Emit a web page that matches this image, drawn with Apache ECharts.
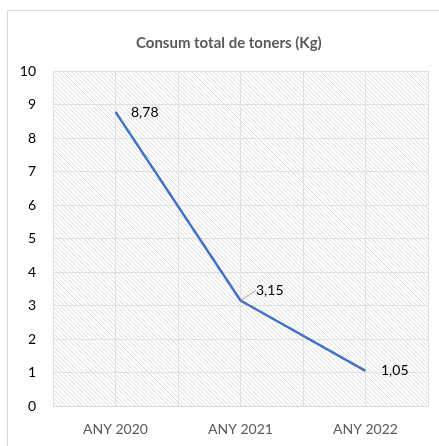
<!DOCTYPE html>
<html>
<head>
<meta charset="utf-8">
<style>
    html, body { margin: 0; padding: 0; background: #fff; }
    #main { width: 439px; height: 446px; }
</style>
</head>
<body>
<div id="main"></div>
<script src="https://cdn.jsdelivr.net/npm/echarts@6/dist/echarts.min.js"></script>
<script>
    var years = ['ANY 2020', 'ANY 2021', 'ANY 2022'];
    var toners = [8.78, 3.15, 1.05];
    var yTicks = [0, 10, 1];

    var gl = 53, gt = 71, gw = 375, gh = 335;

    // diagonal hatch behind the plot area
    var hatch = document.createElement('canvas');
    hatch.width = gw;
    hatch.height = gh;
    var ctx = hatch.getContext('2d');
    ctx.fillStyle = '#ffffff';
    ctx.fillRect(0, 0, gw, gh);
    ctx.strokeStyle = '#dadada';
    ctx.lineWidth = 1;
    ctx.beginPath();
    for (var s = -gh; s < gw; s += 4.3) {
        ctx.moveTo(s, 0);
        ctx.lineTo(s + gh, gh);
    }
    ctx.stroke();

    // label shifts (dx, dy) per point
    var labelShift = [[15, 1], [15, -10], [15, 0]];

    var chart = echarts.init(document.getElementById('main'));
    var option = {
        animation: false,
        textStyle: { fontFamily: 'Lato' },
        title: {
            text: 'Consum total de toners (Kg)',
            left: 131,
            top: 31,
            textStyle: { fontSize: 15, fontWeight: 'bold', color: '#595959', fontFamily: 'Lato' }
        },
        graphic: [{
            type: 'rect',
            shape: { x: 7.5, y: 10.5, width: 440, height: 450 },
            style: { fill: 'none', stroke: '#d9d9d9', lineWidth: 1 },
            silent: true,
            z: -20
        }, {
            type: 'image',
            x: gl, y: gt,
            style: { image: hatch, width: gw, height: gh },
            silent: true,
            z: -10
        }],
        grid: { left: gl, top: gt, width: gw, height: gh },
        xAxis: [{
            type: 'category',
            data: years,
            axisLine: { lineStyle: { color: '#d9d9d9' } },
            axisTick: { show: false },
            axisLabel: { color: '#595959', fontSize: 14, margin: 16 }
        }, {
            type: 'category',
            data: ['', '', '', '', '', '', ''],
            boundaryGap: false,
            position: 'bottom',
            axisLine: { show: false },
            axisTick: { show: false },
            axisLabel: { show: false },
            splitLine: { show: true, interval: 0, lineStyle: { color: '#e0e0e0', width: 1 } }
        }],
        yAxis: {
            type: 'value',
            min: yTicks[0], max: yTicks[1], interval: yTicks[2],
            axisLine: { show: false },
            axisTick: { show: false },
            axisLabel: { color: '#000', fontSize: 14, margin: 17 },
            splitLine: { lineStyle: { color: '#e0e0e0', width: 1 } }
        },
        series: [{
            type: 'line',
            xAxisIndex: 0,
            data: [
                toners[0],
                { value: toners[1], labelLine: { show: true } },
                toners[2]
            ],
            symbol: 'circle',
            symbolSize: 1,
            itemStyle: { color: 'rgba(0,0,0,0)' },
            lineStyle: { color: '#4472c4', width: 2.5 },
            label: {
                show: true,
                position: 'right',
                distance: 0,
                color: '#000',
                fontSize: 14,
                formatter: function (p) { return p.value.toFixed(2).replace('.', ','); }
            },
            labelLine: { show: false, lineStyle: { color: '#a6a6a6', width: 1 } },
            labelLayout: function (p) {
                var d = labelShift[p.dataIndex];
                return { dx: d[0], dy: d[1] };
            }
        }]
    };
    chart.setOption(option);
</script>
</body>
</html>
